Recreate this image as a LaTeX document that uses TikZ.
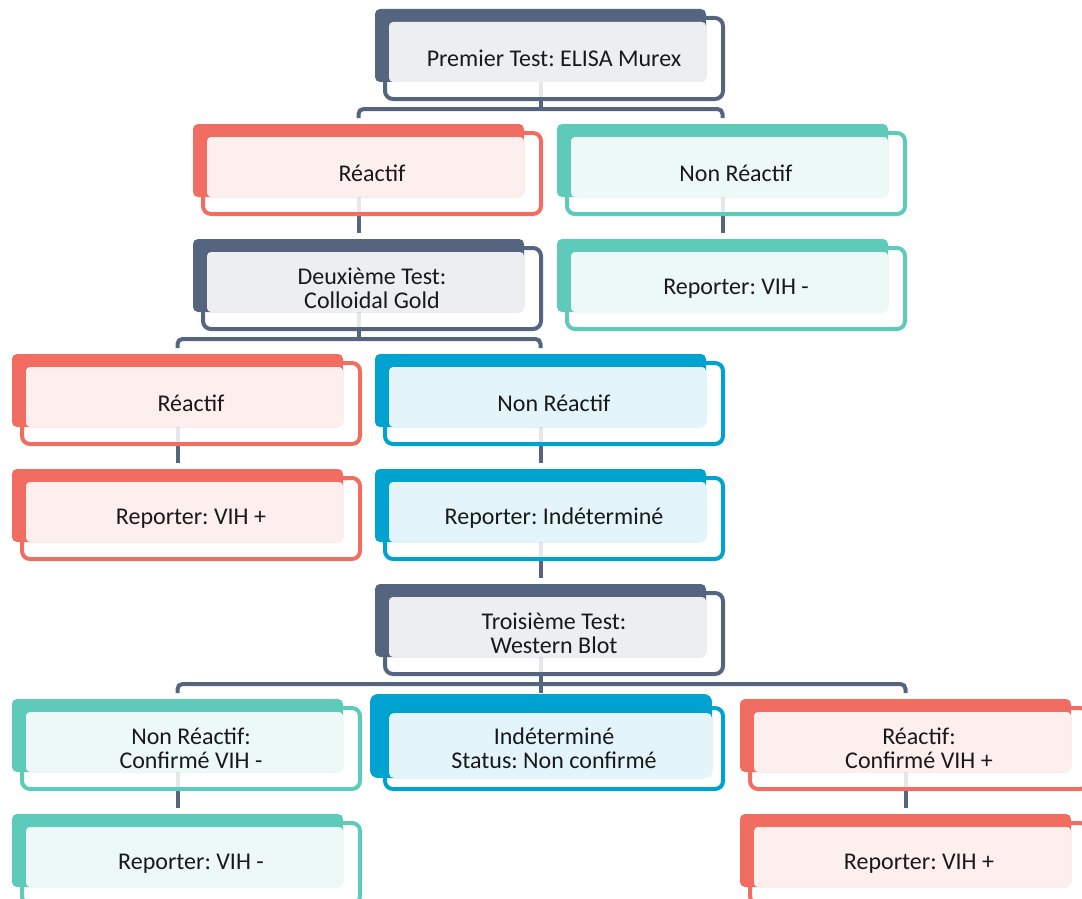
\documentclass[tikz,border=0pt]{standalone}
\usepackage{fontspec}
\setmainfont{Carlito}
\frenchspacing
\usetikzlibrary{backgrounds}
\definecolor{slate}{HTML}{56657F}
\definecolor{coral}{HTML}{F26D61}
\definecolor{mint}{HTML}{5DCABA}
\definecolor{azure}{HTML}{00A2CF}
\def\myshift{-13.5pt}
\def\mygap{15pt}
\def\mydrop{-10pt}
\tikzset{
  box/.style={draw=#1, line width=4pt, rounded corners=8pt, outer sep=0pt,
    minimum width=338pt, minimum height=81pt, inner sep=0pt, align=center,
    text=black!90, font=\fontsize{24}{24.5}\selectfont},
  link/.style={draw=slate, line width=4pt, rounded corners=5pt}
}

\begin{document}
\begin{tikzpicture}[x=1pt,y=1pt]
\useasboundingbox (0,0) rectangle (1082,-899);
% the first test
\node[box=slate] (first) at (554,-58.5) {Premier Test: ELISA Murex};
% its two results
\node[box=coral] (reac1) at (372,-173.5) {Réactif};
\node[box=mint] (nonr1) at (736,-173.5) {Non Réactif};
\node[box=slate] (second) at (372,-288.5) {Deuxième Test:\\Colloidal Gold};
\node[box=mint] (repneg1) at (736,-288.5) {Reporter: VIH -};
% the second test and its results
\node[box=coral] (reac2) at (191,-403.5) {Réactif};
\node[box=azure] (nonr2) at (554,-403.5) {Non Réactif};
\node[box=coral] (reppos1) at (191,-518.5) {Reporter: VIH +};
\node[box=azure] (repind) at (554,-518.5) {Reporter: Indéterminé};
% the third test and its results
\node[box=slate] (third) at (554,-633.5) {Troisième Test:\\Western Blot};
\node[box=mint] (nonr3) at (191,-748.5) {Non Réactif:\\Confirmé VIH -};
\node[box=azure] (indet) at (554,-748.5) {Indéterminé\\Status: Non confirmé};
\node[box=coral] (reac3) at (919,-748.5) {Réactif:\\Confirmé VIH +};
\node[box=mint] (repneg2) at (191,-863.5) {Reporter: VIH -};
\node[box=coral] (reppos2) at (919,-863.5) {Reporter: VIH +};

\begin{scope}[on background layer]
% the connectors
\draw[link] ([xshift=\myshift]first.center) -- ([xshift=\myshift,yshift=\mydrop]first.south) coordinate (j1);
\draw[link] ([xshift=\myshift,yshift=\mygap]reac1.north) |- (j1) -| ([xshift=\myshift,yshift=\mygap]nonr1.north);
\draw[link] ([xshift=\myshift]reac1.center) -- ([xshift=\myshift,yshift=\mygap]second.north);
\draw[link] ([xshift=\myshift]nonr1.center) -- ([xshift=\myshift,yshift=\mygap]repneg1.north);
\draw[link] ([xshift=\myshift]second.center) -- ([xshift=\myshift,yshift=\mydrop]second.south) coordinate (j2);
\draw[link] ([xshift=\myshift,yshift=\mygap]reac2.north) |- (j2) -| ([xshift=\myshift,yshift=\mygap]nonr2.north);
\draw[link] ([xshift=\myshift]reac2.center) -- ([xshift=\myshift,yshift=\mygap]reppos1.north);
\draw[link] ([xshift=\myshift]nonr2.center) -- ([xshift=\myshift,yshift=\mygap]repind.north);
\draw[link] ([xshift=\myshift]repind.center) -- ([xshift=\myshift,yshift=\mygap]third.north);
\draw[link] ([xshift=\myshift]third.center) -- ([xshift=\myshift,yshift=\mydrop]third.south) coordinate (j3);
\draw[link] ([xshift=\myshift]third.center) -- ([xshift=\myshift,yshift=\mygap]indet.north);
\draw[link] ([xshift=\myshift,yshift=\mygap]nonr3.north) |- (j3) -| ([xshift=\myshift,yshift=\mygap]reac3.north);
\draw[link] ([xshift=\myshift]nonr3.center) -- ([xshift=\myshift,yshift=\mygap]repneg2.north);
\draw[link] ([xshift=\myshift]reac3.center) -- ([xshift=\myshift,yshift=\mygap]reppos2.north);
% the solid tab and the tinted panel behind each box
\foreach \n/\c in {first/slate,reac1/coral,nonr1/mint,second/slate,repneg1/mint,
  reac2/coral,nonr2/azure,reppos1/coral,repind/azure,third/slate,
  nonr3/mint,reac3/coral,repneg2/mint,reppos2/coral} {
  \fill[white,fill opacity=.85,rounded corners=8pt] (\n.north west) rectangle (\n.south east);
  \fill[\c,rounded corners=5pt] ([shift={(-10,9)}]\n.north west) rectangle ([shift={(-17,17)}]\n.south east);
  \fill[\c!11,rounded corners=4pt] ([shift={(4,-4)}]\n.north west) rectangle ([shift={(-17,17)}]\n.south east);
}
% the undecided box has a larger tab
\fill[white,fill opacity=.85,rounded corners=8pt] (indet.north west) rectangle (indet.south east);
\fill[azure,rounded corners=8pt] ([shift={(-15,14)}]indet.north west) rectangle ([shift={(-11,11)}]indet.south east);
\fill[azure!11,rounded corners=5pt] ([shift={(4,-5)}]indet.north west) rectangle ([shift={(-11,11)}]indet.south east);
\end{scope}
\end{tikzpicture}
\end{document}
